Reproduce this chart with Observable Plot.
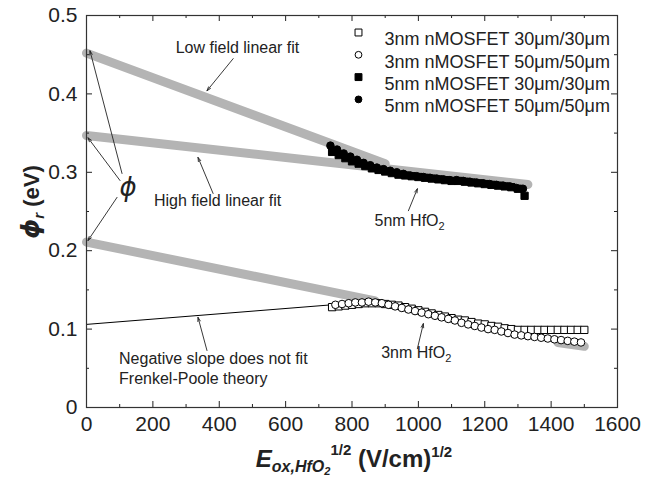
<!DOCTYPE html>
<html><head><meta charset="utf-8">
<script src="https://cdn.jsdelivr.net/npm/d3@7"></script>
<script src="https://cdn.jsdelivr.net/npm/@observablehq/plot@0.6"></script>
<style>body{margin:0;background:#fff;}</style>
</head><body><div id="chart"></div>
<script>
// ---- tick values ----
const xMajor = [0, 200, 400, 600, 800, 1000, 1200, 1400, 1600];
const xMinor = [100, 300, 500, 700, 900, 1100, 1300, 1500];
const yMajor = [0, 0.1, 0.2, 0.3, 0.4, 0.5];
const yMinor = [0.05, 0.15, 0.25, 0.35, 0.45];

// ---- series: 5nm nMOSFET 30um/30um (filled squares) ----
const E_5nm30 = [740,760,780,800,820,840,860,880,900,920,940,960,980,1000,1020,1040,1060,1080,1100,1120,1140,1160,1180,1200,1220,1240,1260,1280,1300,1320];
const phi_5nm30 = [0.326,0.322,0.318,0.314,0.311,0.308,0.305,0.303,0.301,0.299,0.297,0.296,0.295,0.294,0.293,0.292,0.291,0.290,0.289,0.289,0.288,0.287,0.286,0.285,0.284,0.283,0.282,0.281,0.279,0.270];
// ---- series: 5nm nMOSFET 50um/50um (filled circles) ----
const E_5nm50 = [735,755,775,795,815,835,855,875,895,915,935,955,975,995,1015,1035,1055,1075,1095,1115,1135,1155,1175,1195,1215,1235,1255,1275,1295,1315];
const phi_5nm50 = [0.334,0.329,0.324,0.320,0.316,0.312,0.309,0.306,0.304,0.302,0.300,0.298,0.296,0.295,0.294,0.293,0.292,0.291,0.290,0.290,0.289,0.288,0.287,0.286,0.285,0.284,0.283,0.282,0.280,0.279];
// ---- series: 3nm nMOSFET 30um/30um (open squares) ----
const E_3nm30 = [740,760,780,800,820,840,860,880,900,920,940,960,980,1000,1020,1040,1060,1080,1100,1120,1140,1160,1180,1200,1220,1240,1260,1280,1300,1320,1340,1360,1380,1400,1420,1440,1460,1480,1500];
const phi_3nm30 = [0.128,0.129,0.130,0.131,0.132,0.133,0.133,0.133,0.132,0.131,0.130,0.128,0.126,0.124,0.122,0.120,0.118,0.116,0.114,0.112,0.111,0.109,0.107,0.106,0.104,0.103,0.101,0.100,0.099,0.099,0.099,0.099,0.099,0.099,0.099,0.099,0.099,0.099,0.099];
// ---- series: 3nm nMOSFET 50um/50um (open circles) ----
const E_3nm50 = [750,770,790,810,830,850,870,890,910,930,950,970,990,1010,1030,1050,1070,1090,1110,1130,1150,1170,1190,1210,1230,1250,1270,1290,1310,1330,1350,1370,1390,1410,1430,1450,1470,1490];
const phi_3nm50 = [0.131,0.132,0.133,0.134,0.134,0.135,0.134,0.133,0.131,0.129,0.127,0.125,0.123,0.121,0.119,0.117,0.115,0.113,0.111,0.108,0.106,0.104,0.102,0.100,0.099,0.097,0.095,0.093,0.092,0.091,0.090,0.089,0.088,0.087,0.086,0.085,0.084,0.083];

// ---- linear fits ----
const fitLow5E = [0, 900],  fitLow5Phi = [0.452, 0.311];
const fitHigh5E = [0, 1330], fitHigh5Phi = [0.347, 0.2845];
const fitLow3E = [0, 870],  fitLow3Phi = [0.211, 0.136];
const fitTail3E = [1420, 1500], fitTail3Phi = [0.083, 0.078];
const negFitE = [0, 740],   negFitPhi = [0.106, 0.131];

// ---- legend ----
const legendLabels = ["3nm nMOSFET 30\u03bcm/30\u03bcm", "3nm nMOSFET 50\u03bcm/50\u03bcm", "5nm nMOSFET 30\u03bcm/30\u03bcm", "5nm nMOSFET 50\u03bcm/50\u03bcm"];
const legendSymbols = ["square", "circle", "square", "circle"];
const legendFills = ["#fff", "#fff", "#000", "#000"];

// ---- annotations (data coordinates) ----
const centerNotes = ["Low field linear fit", "High field linear fit"];
const centerNoteE = [455, 395];
const centerNotePhi = [0.459, 0.264];
const leftNotes = ["Negative slope does not fit", "Frenkel-Poole theory"];
const leftNoteE = [98, 98];
const leftNotePhi = [0.0625, 0.037];

const arrowE1 = [442, 381.5, 107, 101, 92, 970, 997, 363];
const arrowPhi1 = [0.445, 0.273, 0.2985, 0.2895, 0.268, 0.251, 0.075, 0.0727];
const arrowE2 = [363, 336, 10.5, 4.5, 4.5, 997, 1015, 336];
const arrowPhi2 = [0.404, 0.319, 0.455, 0.344, 0.213, 0.279, 0.107, 0.115];

// ---- build tables ----
const pts = (E, P) => E.map((e, i) => ({E: e, phi: P[i]}));
const s5_30 = pts(E_5nm30, phi_5nm30), s5_50 = pts(E_5nm50, phi_5nm50);
const s3_30 = pts(E_3nm30, phi_3nm30), s3_50 = pts(E_3nm50, phi_3nm50);
const fits = [
  ...pts(fitLow5E, fitLow5Phi).map(d => ({...d, id: "low5"})),
  ...pts(fitHigh5E, fitHigh5Phi).map(d => ({...d, id: "high5"})),
  ...pts(fitLow3E, fitLow3Phi).map(d => ({...d, id: "low3"})),
  ...pts(fitTail3E, fitTail3Phi).map(d => ({...d, id: "tail3"}))
];
const negFit = pts(negFitE, negFitPhi);
const cNotes = centerNotes.map((t, i) => ({t, E: centerNoteE[i], phi: centerNotePhi[i]}));
const lNotes = leftNotes.map((t, i) => ({t, E: leftNoteE[i], phi: leftNotePhi[i]}));
const arrows = arrowE1.map((e, i) => ({x1: e, y1: arrowPhi1[i], x2: arrowE2[i], y2: arrowPhi2[i]}));

const W = 652, H = 478, mL = 86, mR = 35, mT = 15, mB = 71;
const innerW = W - mL - mR, innerH = H - mT - mB;
const ink = "#222";
const gray = "#b4b4b4";

const marks = [
  Plot.line(fits, {x: "E", y: "phi", z: "id", stroke: gray, strokeWidth: 9, strokeLinecap: "round"}),
  Plot.line(negFit, {x: "E", y: "phi", stroke: "#000", strokeWidth: 1}),
  Plot.dot(s3_30, {x: "E", y: "phi", symbol: "square", r: 4.1, stroke: "#000", fill: "#fff", strokeWidth: 1}),
  Plot.dot(s3_50, {x: "E", y: "phi", symbol: "circle", r: 3.8, stroke: "#000", fill: "#fff", strokeWidth: 1}),
  Plot.dot(s5_30, {x: "E", y: "phi", symbol: "square", r: 4.1, stroke: "#000", fill: "#000", strokeWidth: 1}),
  Plot.dot(s5_50, {x: "E", y: "phi", symbol: "circle", r: 3.8, stroke: "#000", fill: "#000", strokeWidth: 1}),
  // inward ticks
  Plot.tickX(xMajor, {x: d => d, insetTop: innerH - 6, stroke: ink}),
  Plot.tickX(xMinor, {x: d => d, insetTop: innerH - 3, stroke: ink}),
  Plot.tickX(xMajor, {x: d => d, insetBottom: innerH - 6, stroke: ink}),
  Plot.tickX(xMinor, {x: d => d, insetBottom: innerH - 3, stroke: ink}),
  Plot.tickY(yMajor, {y: d => d, insetRight: innerW - 6, stroke: ink}),
  Plot.tickY(yMinor, {y: d => d, insetRight: innerW - 3, stroke: ink}),
  Plot.tickY(yMajor, {y: d => d, insetLeft: innerW - 6, stroke: ink}),
  Plot.tickY(yMinor, {y: d => d, insetLeft: innerW - 3, stroke: ink}),
  Plot.frame({stroke: "#333", strokeWidth: 1.2}),
  Plot.axisX({ticks: xMajor, tickSize: 0, tickPadding: 9, fontSize: 21, tickFormat: d => String(d), label: null, fill: ink}),
  Plot.axisY({ticks: yMajor, tickSize: 0, tickPadding: 9, fontSize: 21, tickFormat: d => d === 0 ? "0" : d.toFixed(1), label: null, fill: ink}),
  Plot.arrow(arrows, {x1: "x1", y1: "y1", x2: "x2", y2: "y2", stroke: ink, strokeWidth: 0.9, headLength: 7, headAngle: 35}),
  Plot.text(cNotes, {x: "E", y: "phi", text: "t", textAnchor: "middle", fontSize: 16, fill: ink}),
  Plot.text(lNotes, {x: "E", y: "phi", text: "t", textAnchor: "start", fontSize: 16, fill: ink})
];
// legend inside frame
legendLabels.forEach((lab, i) => {
  marks.push(Plot.dot([lab], {frameAnchor: "top-left", dx: 272, dy: 17 + i * 22.3, symbol: legendSymbols[i], r: i % 2 ? 3.4 : 3.9, stroke: "#000", fill: legendFills[i], strokeWidth: 1}));
  marks.push(Plot.text([lab], {frameAnchor: "top-left", dx: 298, dy: 17 + i * 22.3, text: d => d, textAnchor: "start", fontSize: 18, fill: ink}));
});

const plot = Plot.plot({
  width: W, height: H,
  marginLeft: mL, marginRight: mR, marginTop: mT, marginBottom: mB,
  style: {fontFamily: "'Liberation Sans', Arial, sans-serif", background: "#fff", color: ink},
  x: {domain: [0, 1600], axis: null},
  y: {domain: [0, 0.5], axis: null},
  marks
});
document.getElementById("chart").appendChild(plot);

// ---- rich text (sub/superscripts) ----
const sx = plot.scale("x"), sy = plot.scale("y");
const svg = d3.select(plot);
const g = svg.append("g").attr("font-family", "'Liberation Sans', Arial, sans-serif").attr("fill", ink);

// phi symbol
g.append("text").attr("x", sx.apply(127)).attr("y", sy.apply(0.2806)).attr("dy", "0.35em")
  .attr("text-anchor", "middle").attr("font-size", 26).attr("font-style", "italic")
  .attr("font-family", "'DejaVu Sans', sans-serif").text("\u03d5");

// 5nm HfO2 / 3nm HfO2
function hfo(label, E, phi) {
  const t = g.append("text").attr("x", sx.apply(E)).attr("y", sy.apply(phi)).attr("dy", "0.35em")
    .attr("text-anchor", "middle").attr("font-size", 16);
  t.append("tspan").text(label + " HfO");
  t.append("tspan").attr("font-size", 11).attr("dy", 4).text("2");
}
hfo("5nm", 975, 0.2385);
hfo("3nm", 995, 0.070);

// y title
const yt = g.append("text").attr("transform", "translate(39,202) rotate(-90)")
  .attr("text-anchor", "middle").attr("font-size", 22).attr("font-weight", "bold");
yt.append("tspan").attr("font-family", "'DejaVu Sans', sans-serif").attr("font-style", "italic").attr("font-size", 25).text("\u03d5");
yt.append("tspan").attr("font-size", 15).attr("dy", 5).attr("font-style", "italic").text("r");
yt.append("tspan").attr("dy", -5).text(" (eV)");

// x title
const xt = g.append("text").attr("x", 354).attr("y", 467)
  .attr("text-anchor", "middle").attr("font-size", 24).attr("font-weight", "bold");
xt.append("tspan").attr("font-style", "italic").text("E");
xt.append("tspan").attr("font-style", "italic").attr("font-size", 16).attr("dy", 5).text("ox,HfO");
xt.append("tspan").attr("font-style", "italic").attr("font-size", 11).attr("dy", 3).text("2");
xt.append("tspan").attr("font-size", 15).attr("dy", -20).text("1/2");
xt.append("tspan").attr("dy", 12).text(" (V/cm)");
xt.append("tspan").attr("font-size", 15).attr("dy", -10).text("1/2");
</script></body></html>
